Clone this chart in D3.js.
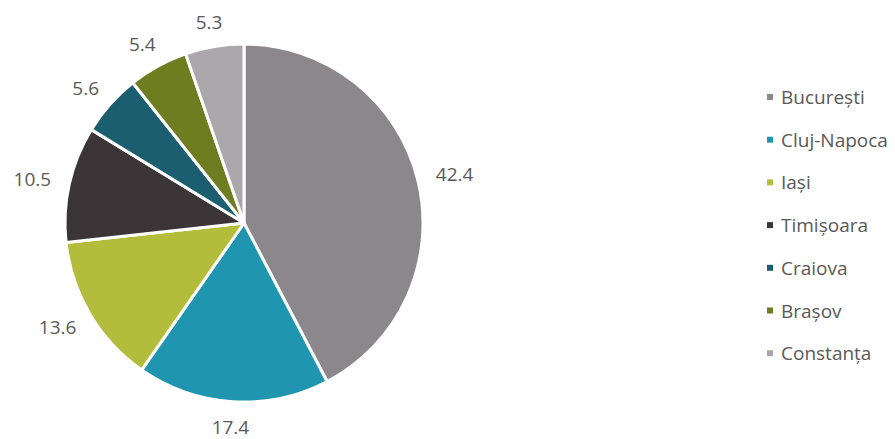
<!DOCTYPE html>
<html>
<head>
<meta charset="utf-8">
<script src="https://cdn.jsdelivr.net/npm/d3@7"></script>
<style>
  html, body { margin: 0; padding: 0; background: #ffffff; }
  svg { display: block; }
</style>
</head>
<body>
<svg id="chart" width="895" height="439"></svg>
<script>
const cities = ["București", "Cluj-Napoca", "Iași", "Timișoara", "Craiova", "Brașov", "Constanța"];
const values = [42.4, 17.4, 13.6, 10.5, 5.6, 5.4, 5.3];
const valueLabels = ["42.4", "17.4", "13.6", "10.5", "5.6", "5.4", "5.3"];
const colors = ["#8c878b", "#1f95b0", "#b3bd3b", "#3c3538", "#1b5e6f", "#6e7d20", "#aaa8aa"];

const svg = d3.select("#chart");
const cx = 244, cy = 223, r = 179;
const fontFamily = "'Open Sans', 'DejaVu Sans', sans-serif";
const textColor = "#595959";

const data = cities.map((c, i) => ({ city: c, value: values[i], label: valueLabels[i], color: colors[i] }));

const pie = d3.pie().value(d => d.value).sort(null);
const arcs = pie(data);
const arc = d3.arc().innerRadius(0).outerRadius(r);

const g = svg.append("g").attr("transform", `translate(${cx},${cy})`);

g.selectAll("path.slice")
  .data(arcs)
  .enter().append("path")
  .attr("class", "slice")
  .attr("d", arc)
  .attr("fill", d => d.data.color)
  .attr("stroke", "#ffffff")
  .attr("stroke-width", 3)
  .attr("stroke-linejoin", "round");

// Labels placed outside end; text box offset outward from an anchor ring
const gap = 19;
const labels = g.selectAll("text.val")
  .data(arcs)
  .enter().append("text")
  .attr("class", "val")
  .attr("font-family", fontFamily)
  .attr("font-size", 19)
  .attr("fill", textColor)
  .attr("text-anchor", "middle")
  .attr("dominant-baseline", "central")
  .text(d => d.data.label);

labels.each(function(d) {
  const a = (d.startAngle + d.endAngle) / 2;
  const s = Math.sin(a), c = Math.cos(a);
  const bb = this.getBBox();
  const w = bb.width, h = 12;
  const px = (r + gap) * s, py = -(r + gap) * c;
  const x = px + s * w / 2;
  const y = py - c * h / 2;
  d3.select(this).attr("x", x).attr("y", y);
});

// Legend
const legendX = 767, legendY0 = 97, legendStep = 42.7;
const legend = svg.append("g");
const items = legend.selectAll("g.item")
  .data(data)
  .enter().append("g")
  .attr("class", "item")
  .attr("transform", (d, i) => `translate(${legendX},${legendY0 + i * legendStep})`);

items.append("rect")
  .attr("x", 0)
  .attr("y", -3)
  .attr("width", 6)
  .attr("height", 6)
  .attr("fill", d => d.color);

items.append("text")
  .attr("x", 14)
  .attr("y", 0)
  .attr("dominant-baseline", "central")
  .attr("font-family", fontFamily)
  .attr("font-size", 19)
  .attr("fill", textColor)
  .text(d => d.city);
</script>
</body>
</html>
